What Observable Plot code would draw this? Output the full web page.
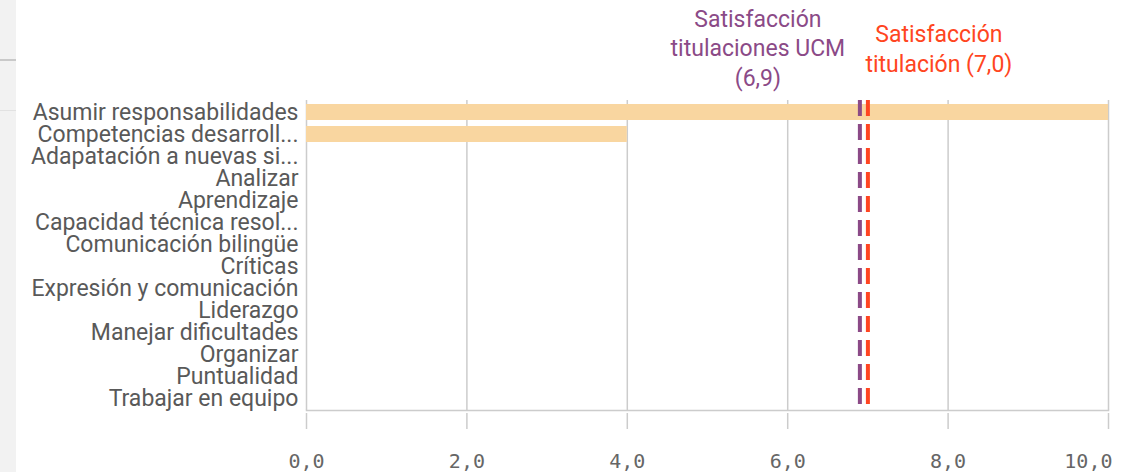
<!DOCTYPE html>
<html>
<head>
<meta charset="utf-8">
<script src="https://cdn.jsdelivr.net/npm/d3@7"></script>
<script src="https://cdn.jsdelivr.net/npm/@observablehq/plot@0.6"></script>
<style>
  html, body { margin: 0; padding: 0; background: #fff; }
  #wrap { position: relative; width: 1124px; height: 472px; overflow: hidden; }
  #strip { position: absolute; left: 0; top: 0; width: 16px; height: 472px; background: #f2f2f2; }
  #strip .l1 { position: absolute; left: 0; top: 59px; width: 16px; height: 2px; background: #c9c9c9; }
  #strip .l2 { position: absolute; left: 0; top: 110px; width: 16px; height: 1px; background: #e2e2e2; }
  #chart { position: absolute; left: 0; top: 0; }
</style>
</head>
<body>
<div id="wrap">
  <div id="strip"><div class="l1"></div><div class="l2"></div></div>
  <div id="chart"></div>
</div>
<script>
const categories = [
  "Asumir responsabilidades",
  "Competencias desarroll...",
  "Adapatación a nuevas si...",
  "Analizar",
  "Aprendizaje",
  "Capacidad técnica resol...",
  "Comunicación bilingüe",
  "Críticas",
  "Expresión y comunicación",
  "Liderazgo",
  "Manejar dificultades",
  "Organizar",
  "Puntualidad",
  "Trabajar en equipo"
];
const values = [10, 4, 0, 0, 0, 0, 0, 0, 0, 0, 0, 0, 0, 0];
const xTicks = [0, 2, 4, 6, 8, 10];
const ucmValue = 6.9;
const titValue = 7.0;
const ucmLabel = "Satisfacción\ntitulaciones UCM\n(6,9)";
const titLabel = "Satisfacción\ntitulación (7,0)";

const data = categories.map((c, i) => ({category: c, value: values[i]}));
const fmt = d => d.toFixed(1).replace(".", ",");
const lastTick = xTicks[xTicks.length - 1];

const chart = Plot.plot({
  width: 1124,
  height: 472,
  marginLeft: 306,
  marginRight: 16,
  marginTop: 100,
  marginBottom: 62,
  style: {fontFamily: "Roboto, sans-serif", fontSize: "23px", color: "#595959", background: "transparent"},
  x: {domain: [0, 10], ticks: xTicks},
  y: {domain: categories, paddingInner: 0.27, paddingOuter: 0.02, axis: null},
  marks: [
    Plot.gridX(xTicks, {stroke: "#cccccc", strokeOpacity: 1, strokeWidth: 1.5}),
    Plot.frame({anchor: "bottom", stroke: "#cccccc", strokeWidth: 1.5}),
    Plot.barX(data, {x: "value", y: "category", fill: "#f9d6a0"}),
    Plot.ruleX([ucmValue], {stroke: "#8b4a87", strokeWidth: 4, strokeDasharray: "16,8"}),
    Plot.ruleX([titValue], {stroke: "#ff4521", strokeWidth: 4, strokeDasharray: "16,8"}),
    Plot.axisY({tickSize: 0, tickPadding: 8, fontSize: 23, fill: "#595959", label: null}),
    Plot.axisX(xTicks, {tickSize: 16, dy: 3, stroke: "#cccccc", strokeWidth: 1.5, text: null, label: null}),
    Plot.axisX(xTicks.filter(t => t !== lastTick), {tickSize: 0, tickPadding: 43, tickFormat: fmt, fontFamily: "DejaVu Sans Mono, monospace", fontSize: 20, fill: "#666666", label: null}),
    Plot.axisX([lastTick], {tickSize: 0, tickPadding: 43, tickFormat: fmt, textAnchor: "end", dx: 4, fontFamily: "DejaVu Sans Mono, monospace", fontSize: 20, fill: "#666666", label: null}),
    Plot.text([ucmValue], {x: d => d, frameAnchor: "top", text: () => ucmLabel, lineAnchor: "bottom", lineHeight: 1.27, dx: -102, dy: -15, fill: "#8b4a87", fontSize: 23}),
    Plot.text([titValue], {x: d => d, frameAnchor: "top", text: () => titLabel, lineAnchor: "bottom", lineHeight: 1.27, dx: 71, dy: -29, fill: "#ff4521", fontSize: 23})
  ]
});
document.getElementById("chart").appendChild(chart);
</script>
</body>
</html>
